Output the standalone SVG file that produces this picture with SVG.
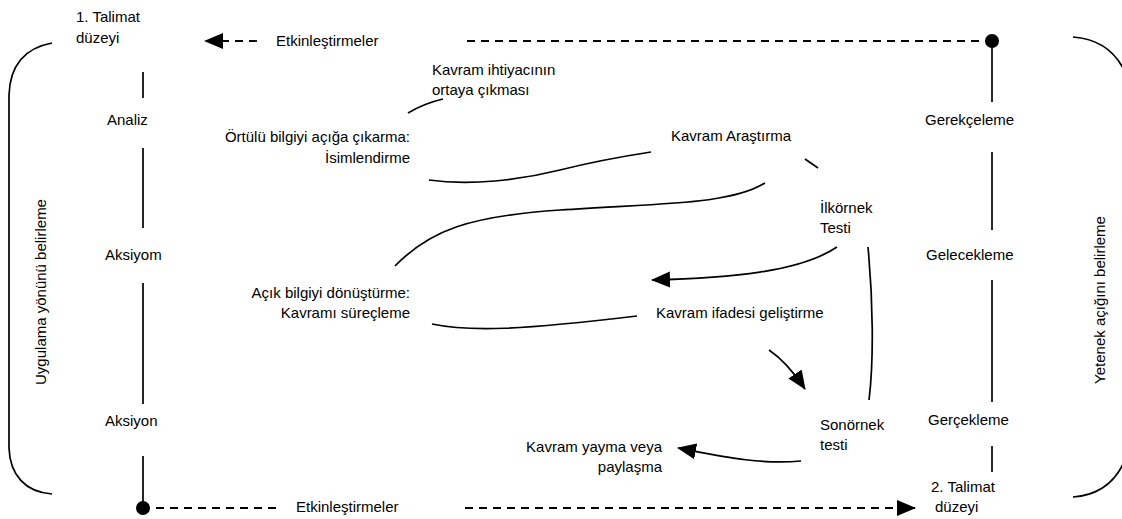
<svg xmlns="http://www.w3.org/2000/svg" width="1122" height="519" viewBox="0 0 1122 519">
<defs>
<style>
text{font-family:"Liberation Sans",Arial,sans-serif;font-size:15px;fill:#000}
.l{fill:none;stroke:#000;stroke-width:1.7}
.d{fill:none;stroke:#000;stroke-width:1.8;stroke-dasharray:8 6}
.r{text-anchor:end}
.m{text-anchor:middle}
</style>
<marker id="ah" markerUnits="userSpaceOnUse" markerWidth="22" markerHeight="18" refX="18" refY="8" orient="auto">
<path d="M0,0 L19,8 L0,16 Z" fill="#000"/>
</marker>
</defs>
<rect width="1122" height="519" fill="#fff"/>
<g id="connectors">
<path class="l" d="M52,43 C25,48 10,65 9,95 L9,448 C10,475 25,492 52,494"/>
<path class="l" d="M1073,37 C1100,39 1115,52 1124,70"/>
<path class="l" d="M1073,497 C1100,495 1115,482 1124,462"/>
<path class="d" d="M257,41 L205,41" marker-end="url(#ah)"/>
<path class="d" d="M467,41 L986,41"/>
<circle cx="992" cy="41" r="7"/>
<path class="l" d="M992,41 V102"/>
<path class="l" d="M992,152 V230"/>
<path class="l" d="M992,280 V402"/>
<path class="l" d="M992,446 V472"/>
<path class="l" d="M143,72 V98"/>
<path class="l" d="M143,148 V228"/>
<path class="l" d="M143,283 V404"/>
<path class="l" d="M143,456 V508"/>
<circle cx="143" cy="508" r="7"/>
<path class="d" d="M156,508 H276"/>
<path class="d" d="M465,508 H915" marker-end="url(#ah)"/>
<path class="l" d="M408,113 C418,107 430,102 443,99"/>
<path class="l" d="M429,180 C470,186 520,180 560,170 C600,160 625,156 651,152"/>
<path class="l" d="M805,159 L818,168"/>
<path class="l" d="M395,266 C430,230 470,216 560,210 C660,203 730,205 765,183"/>
<path class="l" d="M837,247 C800,272 730,278 652,280" marker-end="url(#ah)"/>
<path class="l" d="M432,324 C470,332 520,330 637,316"/>
<path class="l" d="M868,247 C873,300 874,360 869,400"/>
<path class="l" d="M769,350 C784,360 795,374 805,389" marker-end="url(#ah)"/>
<path class="l" d="M801,461 C760,465 720,456 678,448" marker-end="url(#ah)"/>
</g>
<g id="n-talimat1"><text x="76" y="22">1. Talimat</text><text x="76" y="43">düzeyi</text></g>
<g id="n-etk1"><text x="276" y="46">Etkinleştirmeler</text></g>
<g id="n-etk2"><text x="296" y="512">Etkinleştirmeler</text></g>
<g id="n-talimat2"><text x="931" y="492">2. Talimat</text><text x="935" y="512">düzeyi</text></g>
<g id="n-analiz"><text x="107" y="125">Analiz</text></g>
<g id="n-aksiyom"><text x="105" y="260">Aksiyom</text></g>
<g id="n-aksiyon"><text x="105" y="426">Aksiyon</text></g>
<g id="n-gerekceleme"><text x="925" y="125">Gerekçeleme</text></g>
<g id="n-gelecekleme"><text x="926" y="260">Gelecekleme</text></g>
<g id="n-gerceleme"><text x="928" y="425">Gerçekleme</text></g>
<g id="n-uygulama"><text class="m" transform="translate(46,292) rotate(-90)">Uygulama yönünü belirleme</text></g>
<g id="n-yetenek"><text class="m" transform="translate(1105,300) rotate(-90)">Yetenek açığını belirleme</text></g>
<g id="n-ihtiyac"><text x="432" y="75">Kavram ihtiyacının</text><text x="432" y="95">ortaya çıkması</text></g>
<g id="n-ortulu"><text class="r" x="410" y="142">Örtülü bilgiyi açığa çıkarma:</text><text class="r" x="410" y="163">İsimlendirme</text></g>
<g id="n-arastirma"><text x="671" y="141">Kavram Araştırma</text></g>
<g id="n-ilkornek"><text x="820" y="213">İlkörnek</text><text x="820" y="233">Testi</text></g>
<g id="n-acik"><text class="r" x="410" y="298">Açık bilgiyi dönüştürme:</text><text class="r" x="410" y="318">Kavramı süreçleme</text></g>
<g id="n-ifade"><text x="656" y="318">Kavram ifadesi geliştirme</text></g>
<g id="n-sonornek"><text x="820" y="430">Sonörnek</text><text x="820" y="450">testi</text></g>
<g id="n-yayma"><text class="r" x="662" y="452">Kavram yayma veya</text><text class="r" x="662" y="472">paylaşma</text></g>
</svg>
